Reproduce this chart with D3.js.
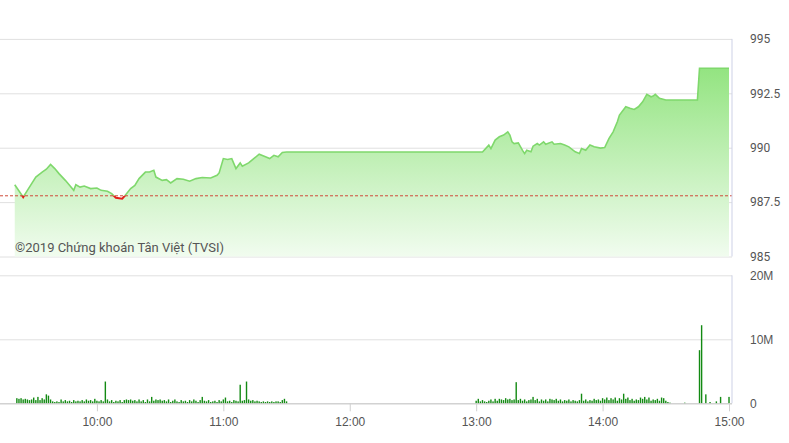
<!DOCTYPE html>
<html><head><meta charset="utf-8">
<script src="https://cdn.jsdelivr.net/npm/d3@7"></script>
<style>
body{margin:0;background:#fff;}
svg{display:block;font-family:Roboto,"Noto Sans",sans-serif;}
</style>
</head><body>
<svg id="c" width="789" height="443"></svg>
<script>
// ---------- DATA ----------
const priceTimes = ["9:21","9:25","9:27","9:31","9:34","9:36","9:38","9:40","9:42","9:45","9:47","9:49","9:50","9:52","9:54","9:57",
 "10:00","10:02","10:05","10:07","10:09","10:12","10:13","10:16","10:18","10:20","10:23","10:25","10:27","10:28","10:31","10:33","10:35","10:38","10:41","10:44","10:47","10:50","10:54","10:57","10:58",
 "11:00","11:02","11:04","11:06","11:08","11:09","11:12","11:14","11:17","11:20","11:22","11:24","11:26","11:28","11:30",
 "13:03","13:06","13:07","13:09","13:11","13:13","13:15","13:16","13:17","13:18","13:20","13:22","13:23","13:24","13:26","13:27","13:29","13:30","13:32","13:33","13:36","13:37","13:40","13:42","13:44","13:47","13:49","13:50","13:52","13:54","13:56","13:59",
 "14:01","14:03","14:05","14:07","14:08","14:11","14:13","14:15","14:17","14:19","14:21","14:23","14:24","14:25","14:27","14:30","14:45","14:46","15:00"];
const priceValues = [988.30,987.73,988.04,988.65,988.88,989.01,989.23,989.04,988.81,988.50,988.27,988.04,988.30,988.19,988.24,988.12,
 988.15,988.04,988.00,987.89,987.70,987.66,987.76,988.12,988.27,988.58,988.88,988.88,988.96,988.65,988.50,988.53,988.38,988.58,988.55,988.46,988.58,988.63,988.61,988.73,988.84,
 989.50,989.46,989.50,989.04,989.30,989.15,989.30,989.46,989.70,989.58,989.50,989.65,989.58,989.78,989.80,
 989.80,990.12,989.96,990.35,990.50,990.58,990.73,990.58,990.27,990.19,990.22,989.88,989.73,989.88,989.81,990.07,990.19,990.12,990.27,990.16,990.27,990.16,990.19,990.12,990.04,989.81,989.73,989.96,989.88,990.12,990.04,989.98,
 990.01,990.42,990.73,991.19,991.50,991.88,991.81,991.76,991.88,992.11,992.45,992.34,992.37,992.45,992.27,992.19,992.19,993.65,993.65];
const refPrice = 987.79;

// volume (millions), one bar per minute
const volMorningStart = "9:22";
const volMorning = [0.8,0.7,0.8,0.6,0.7,0.6,0.5,0.6,0.9,0.5,1.0,0.5,0.8,0.6,1.4,1.2,0.6,0.3,0.2,0.3,0.2,0.6,0.3,0.5,0.3,0.4,0.2,0.5,0.3,0.4,0.3,0.5,0.3,0.6,0.4,0.5,0.3,0.7,
 0.4,0.3,0.5,0.3,3.4,0.6,0.3,0.5,0.2,0.4,0.3,0.5,0.2,0.5,0.6,0.5,0.6,0.4,0.5,0.3,0.6,0.3,0.5,0.2,0.6,0.3,1.0,0.4,0.6,0.5,0.6,0.4,0.5,0.3,0.6,0.2,0.4,0.6,0.3,0.2,0.5,0.3,0.4,0.2,0.5,0.3,0.6,0.4,0.2,0.5,1.0,0.4,0.3,0.5,0.2,0.3,0.4,0.2,0.5,0.3,
 0.6,0.9,0.3,0.4,0.2,0.5,0.4,0.3,2.9,0.4,0.5,3.4,0.6,0.4,0.5,0.3,0.4,0.3,0.2,0.3,0.2,0.3,0.2,0.3,0.2,0.3,0.3,0.2,0.5,0.7,0.3];
const volAfternoonStart = "13:00";
const volAfternoon = [0.4,0.7,0.3,0.5,0.3,0.2,0.4,0.6,0.3,0.7,0.4,0.7,0.6,0.5,0.8,0.6,0.7,0.5,0.6,3.3,0.5,0.7,0.4,0.6,0.3,0.5,0.6,1.0,0.5,0.7,0.3,0.6,0.4,0.6,0.3,0.7,0.6,0.5,0.7,0.4,0.6,0.3,0.5,0.4,0.6,0.3,0.5,0.4,0.3,0.5,1.5,0.4,0.6,0.3,0.5,0.4,0.7,0.5,0.6,0.4,
 0.8,0.6,0.9,0.5,0.8,0.6,0.9,0.4,0.8,0.6,1.5,0.7,0.9,0.5,0.7,0.4,0.6,0.5,0.9,0.7,1.0,0.6,0.9,0.4,0.6,0.5,0.7,0.4,0.9,0.8,0.4,0.2,0.1];
const volLateTimes = ["14:39","14:46","14:47","14:49","14:51","14:54","14:56","15:00"];
const volLateValues = [0.1,8.3,12.2,1.4,0.2,0.3,1.0,1.0];

const priceTicks = [985, 987.5, 990, 992.5, 995];
const volTicks = [0, 10, 20];
const volTickLabels = ["0", "10M", "20M"];
const timeTicks = ["10:00","11:00","12:00","13:00","14:00","15:00"];
const copyright = "©2019 Chứng khoán Tân Việt (TVSI)";

// ---------- HELPERS ----------
const toMin = s => { const [h, m] = s.split(":").map(Number); return h * 60 + m; };
const price = priceTimes.map((t, i) => ({ t: toMin(t), v: priceValues[i] }));
const vol = [];
volMorning.forEach((v, i) => vol.push({ t: toMin(volMorningStart) + i, v }));
volAfternoon.forEach((v, i) => vol.push({ t: toMin(volAfternoonStart) + i, v }));
volLateTimes.forEach((t, i) => vol.push({ t: toMin(t), v: volLateValues[i] }));

// ---------- LAYOUT ----------
const W = 732;
const svg = d3.select("#c");
const x = d3.scaleLinear().domain([toMin("9:14"), toMin("15:00") + 1.42]).range([0, W]);
const y = d3.scaleLinear().domain([985, 995]).range([256.5, 38.9]);
const yv = d3.scaleLinear().domain([0, 20]).range([403.3, 275.3]);

const defs = svg.append("defs");
const grad = defs.append("linearGradient").attr("id", "fillG")
  .attr("gradientUnits", "userSpaceOnUse").attr("x1", 0).attr("x2", 0).attr("y1", 60).attr("y2", 256.5);
grad.append("stop").attr("offset", 0).attr("stop-color", "#8fe37c");
grad.append("stop").attr("offset", 1).attr("stop-color", "#f1fcef");
defs.append("clipPath").attr("id", "above").append("rect")
  .attr("x", 0).attr("y", 0).attr("width", W).attr("height", y(refPrice));
defs.append("clipPath").attr("id", "below").append("rect")
  .attr("x", 0).attr("y", y(refPrice)).attr("width", W).attr("height", 300);

// price gridlines + labels
const ay = svg.append("g").attr("transform", `translate(${W},0)`)
  .call(d3.axisRight(y).tickValues(priceTicks).tickSizeInner(-W).tickSizeOuter(0).tickPadding(18)
    .tickFormat(d => String(d)));
ay.select(".domain").remove();
ay.selectAll("line").attr("stroke", "#e0e0e0");
ay.selectAll("text").attr("fill", "#555").style("font-size", "12px").style("font-family", "Roboto");

// area + line
const area = d3.area().x(d => x(d.t)).y0(y(985)).y1(d => y(d.v));
const line = d3.line().x(d => x(d.t)).y(d => y(d.v));
svg.append("path").datum(price).attr("d", area).attr("fill", "url(#fillG)");
svg.append("path").datum(price).attr("d", line).attr("fill", "none")
  .attr("stroke", "#7fd86c").attr("stroke-width", 1.6).attr("clip-path", "url(#above)");
svg.append("path").datum(price).attr("d", line).attr("fill", "none")
  .attr("stroke", "#e3201c").attr("stroke-width", 2).attr("clip-path", "url(#below)");

// reference line
svg.append("line").attr("x1", 0).attr("x2", W).attr("y1", y(refPrice)).attr("y2", y(refPrice))
  .attr("stroke", "#cf4a3a").attr("stroke-width", 1).attr("stroke-dasharray", "3,2");

// right border of price panel
svg.append("line").attr("x1", W).attr("x2", W).attr("y1", y(995)).attr("y2", y(985))
  .attr("stroke", "#cdd1e6").attr("stroke-width", 1);

// copyright
svg.append("text").attr("x", 15).attr("y", 251.5).attr("fill", "#555")
  .style("font-size", "13px").text(copyright);

// volume gridlines + labels
const av = svg.append("g").attr("transform", `translate(${W},0)`)
  .call(d3.axisRight(yv).tickValues(volTicks).tickSizeInner(-W).tickSizeOuter(0).tickPadding(18)
    .tickFormat((d, i) => volTickLabels[i]));
av.select(".domain").remove();
av.selectAll("line").attr("stroke", "#e0e0e0");
av.selectAll("text").attr("fill", "#555").style("font-size", "12px");

svg.append("line").attr("x1", W).attr("x2", W).attr("y1", yv(20)).attr("y2", yv(0))
  .attr("stroke", "#cdd1e6").attr("stroke-width", 1);

// volume bars
svg.append("g").selectAll("rect").data(vol).join("rect")
  .attr("x", d => x(d.t) - 0.7).attr("width", 1.4)
  .attr("y", d => yv(d.v)).attr("height", d => yv(0) - yv(d.v))
  .attr("fill", "#138a13");

// time axis
const ax = svg.append("g").attr("transform", `translate(0,${yv(0)})`)
  .call(d3.axisBottom(x).tickValues(timeTicks.map(toMin)).tickSizeInner(8).tickSizeOuter(0).tickPadding(6)
    .tickFormat((d, i) => timeTicks[i]));
ax.select(".domain").attr("stroke", "#c8c8c8").attr("d", `M0,0.5H${W}`);
ax.selectAll("line").attr("stroke", "#cfcfcf");
ax.selectAll("text").attr("fill", "#555").style("font-size", "12px");
</script>
</body></html>
